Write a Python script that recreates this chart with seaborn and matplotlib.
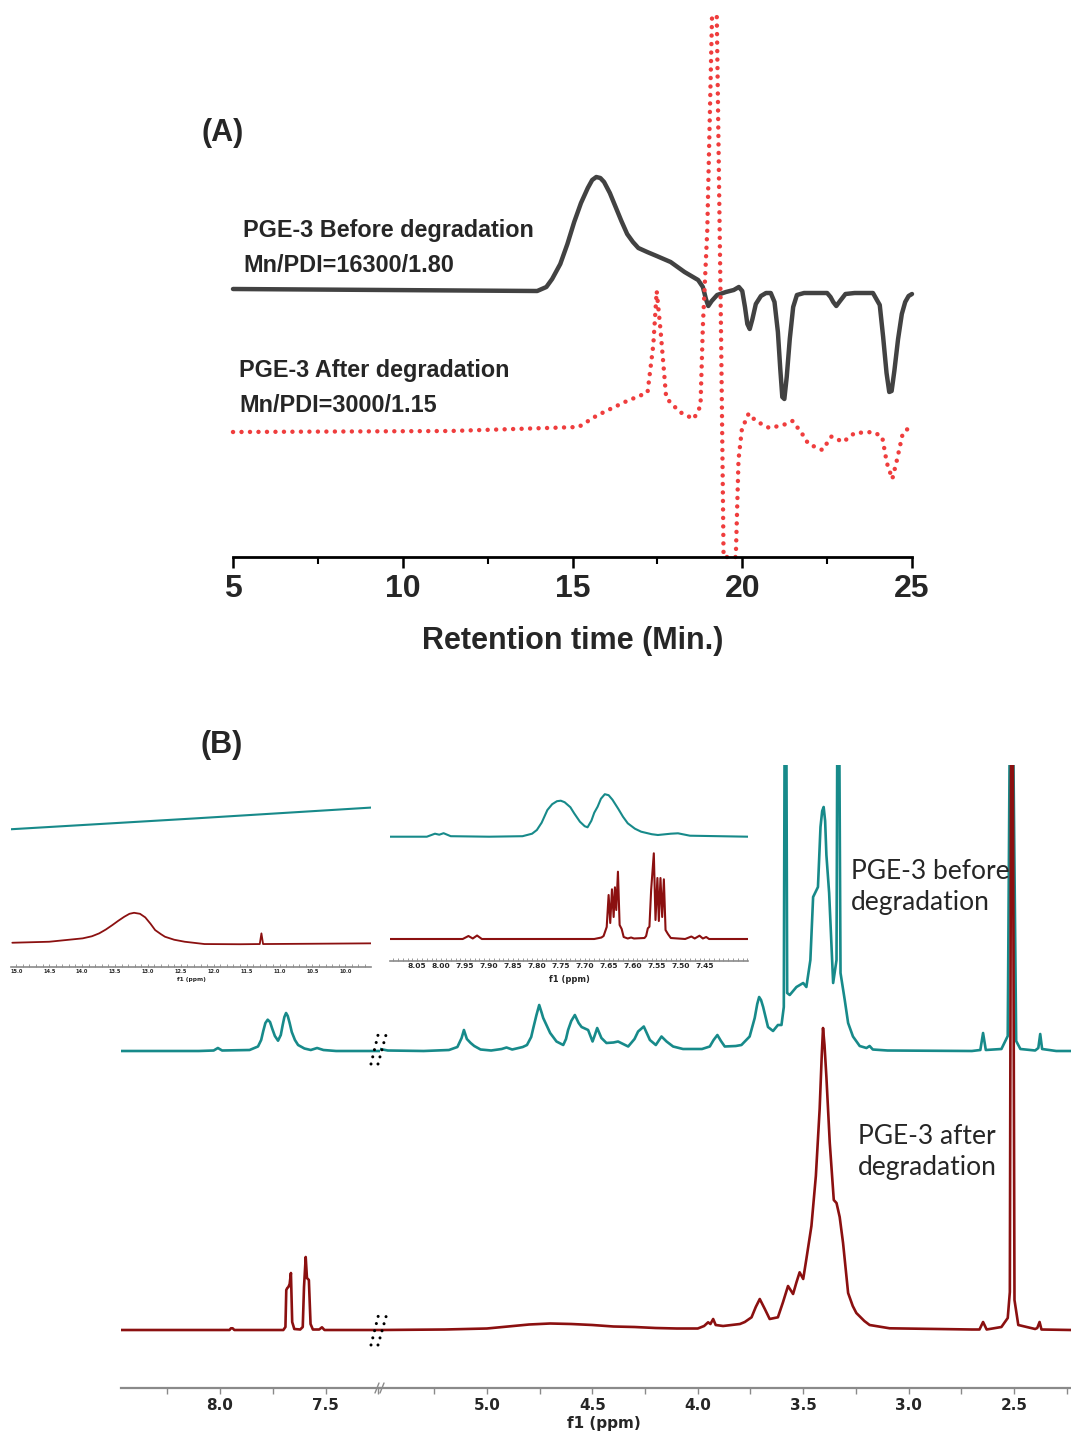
import matplotlib
matplotlib.use('Agg')
import matplotlib.pyplot as plt
from matplotlib.lines import Line2D
from matplotlib.ticker import MultipleLocator
import seaborn as sns

# ---- (A) GPC traces: retention time (min) vs detector signal (a.u.)
gpc_time_before = [5.0, 13.96, 14.23, 14.4, 14.64, 14.85, 15.05, 15.25, 15.45, 15.58, 15.70,
                   15.82, 15.93, 16.1, 16.27, 16.44, 16.61, 16.78, 16.94, 17.2, 17.48, 17.89,
                   18.30, 18.70, 18.84, 18.93, 19.00, 19.10, 19.26, 19.52, 19.75, 19.90, 20.00,
                   20.08, 20.15, 20.22, 20.30, 20.40, 20.55, 20.70, 20.84, 20.95, 21.05, 21.12,
                   21.18, 21.24, 21.31, 21.40, 21.50, 21.61, 21.82, 22.50, 22.60, 22.68, 22.77,
                   22.88, 23.04, 23.31, 23.85, 24.05, 24.15, 24.25, 24.33, 24.40, 24.48, 24.59,
                   24.70, 24.80, 24.90, 25.0]
gpc_signal_before = [26.8, 26.6, 27.0, 27.8, 29.3, 31.3, 33.5, 35.4, 36.9, 37.7, 38.0,
                     37.9, 37.5, 36.4, 35.0, 33.6, 32.3, 31.5, 30.9, 30.5, 30.1, 29.5,
                     28.5, 27.7, 27.0, 25.8, 25.1, 25.6, 26.2, 26.5, 26.7, 27.0, 26.6,
                     25.0, 23.3, 22.8, 23.8, 25.3, 26.1, 26.4, 26.4, 25.5, 22.5, 18.8,
                     16.0, 15.8, 18.0, 21.8, 25.0, 26.2, 26.4, 26.4, 26.0, 25.5, 25.1,
                     25.6, 26.3, 26.4, 26.4, 25.2, 22.0, 18.4, 16.5, 16.6, 18.6, 21.8,
                     24.3, 25.5, 26.1, 26.3]
gpc_time_after = [5.0, 11.39, 15.18, 15.72, 16.54, 17.21, 17.38, 17.48, 17.59, 17.76, 18.16,
                  18.57, 18.77, 18.84, 18.97, 19.11, 19.25, 19.38, 19.45, 19.81, 19.89, 19.99,
                  20.19, 20.40, 20.80, 21.21, 21.48, 21.75, 21.95, 22.36, 22.63, 22.97, 23.31,
                  23.85, 24.12, 24.26, 24.42, 24.56, 24.73, 24.87]
gpc_signal_after = [12.5, 12.6, 13.0, 14.15, 15.5, 16.45, 21.2, 26.6, 22.8, 15.9, 14.5,
                    13.8, 15.1, 23.1, 32.7, 54.1, 54.1, 21.2, 0.0, 0.0, 9.75, 12.8,
                    14.35, 13.6, 12.9, 13.2, 13.6, 12.4, 11.3, 10.7, 12.05, 11.5, 12.4,
                    12.5, 12.05, 9.4, 7.8, 9.75, 12.4, 12.8]
gpc_ticks = [5, 10, 15, 20, 25]

# ---- (B) 1H NMR, heights above each trace's baseline
teal_left_ppm = [8.469, 8.10, 8.03, 8.01, 7.99, 7.86, 7.82, 7.805, 7.795, 7.785, 7.774, 7.763,
                 7.752, 7.74, 7.725, 7.712, 7.703, 7.695, 7.687, 7.679, 7.67, 7.66, 7.645, 7.63,
                 7.60, 7.57, 7.54, 7.51, 7.45, 7.242]
teal_left_h = [0, 0, 0.05, 0.3, 0.05, 0.1, 0.45, 1.1, 2.0, 2.8, 3.13, 2.9,
               2.2, 1.5, 1.03, 1.6, 2.6, 3.4, 3.8, 3.5, 2.8, 1.9, 1.1, 0.6,
               0.25, 0.1, 0.3, 0.1, 0, 0]
teal_right_ppm = [5.507, 5.47, 5.30, 5.18, 5.14, 5.12, 5.109, 5.095, 5.077, 5.06, 5.03, 4.98,
                  4.93, 4.907, 4.88, 4.83, 4.81, 4.79, 4.78, 4.765, 4.752, 4.74, 4.733, 4.70,
                  4.67, 4.638, 4.625, 4.615, 4.60, 4.583, 4.565, 4.551, 4.52, 4.499, 4.488,
                  4.477, 4.457, 4.433, 4.40, 4.378, 4.33, 4.30, 4.283, 4.256, 4.227, 4.199,
                  4.172, 4.148, 4.117, 4.07, 3.98, 3.943, 3.925, 3.907, 3.89, 3.872, 3.82,
                  3.793, 3.754, 3.73, 3.718, 3.709, 3.70, 3.69, 3.667, 3.643, 3.62, 3.603,
                  3.592, 3.587, 3.581, 3.576, 3.564, 3.532, 3.50, 3.485, 3.466, 3.453, 3.43,
                  3.418, 3.41, 3.403, 3.396, 3.39, 3.377, 3.358, 3.342, 3.337, 3.331, 3.323,
                  3.303, 3.287, 3.264, 3.232, 3.20, 3.185, 3.17, 3.10, 2.70, 2.66, 2.647,
                  2.634, 2.56, 2.53, 2.518, 2.508, 2.49, 2.47, 2.40, 2.385, 2.376, 2.367,
                  2.30, 2.23]
teal_right_h = [0.2, 0.05, 0.0, 0.1, 0.4, 1.3, 2.1, 1.2, 0.8, 0.5, 0.15, 0.05,
                0.2, 0.35, 0.15, 0.4, 0.6, 1.4, 2.3, 3.6, 4.6, 3.8, 3.3, 1.8,
                0.95, 0.6, 1.2, 2.1, 3.0, 3.6, 2.8, 2.4, 2.1, 0.95, 1.6,
                2.3, 1.3, 0.8, 0.85, 0.95, 0.45, 1.2, 1.95, 2.45, 1.1, 0.6,
                1.45, 0.95, 0.45, 0.2, 0.2, 0.45, 1.1, 1.6, 1.0, 0.45, 0.5,
                0.6, 1.45, 3.3, 4.7, 5.4, 5.1, 4.4, 2.4, 2.0, 2.6, 2.6,
                4.4, 40, 40, 5.8, 5.6, 6.4, 6.8, 6.4, 9.1, 15.4, 16.4,
                22.4, 24.0, 24.4, 23.0, 19.6, 15.8, 6.8, 9.1, 40, 40, 7.8,
                5.1, 2.8, 1.45, 0.5, 0.3, 0.5, 0.15, 0.05, 0.0, 0.1, 1.8,
                0.1, 0.2, 1.5, 40, 40, 1.0, 0.2, 0.05, 0.3, 1.7, 0.2,
                0.0, 0.0]
red_left_ppm = [8.469, 8.0, 7.955, 7.948, 7.94, 7.932, 7.70, 7.69, 7.686, 7.681, 7.676, 7.670,
                7.664, 7.658, 7.648, 7.62, 7.608, 7.602, 7.594, 7.588, 7.579, 7.571, 7.56,
                7.53, 7.517, 7.505, 7.242]
red_left_h = [0, 0, 0.0, 0.17, 0.17, 0.0, 0.0, 0.3, 4.0, 4.2, 4.3, 4.6,
              5.7, 0.8, 0.1, 0.05, 0.3, 4.3, 7.3, 5.2, 5.0, 0.6, 0.05,
              0.05, 0.27, 0.0, 0]
red_right_ppm = [5.507, 5.2, 5.0, 4.9, 4.8, 4.7, 4.6, 4.5, 4.4, 4.3, 4.2, 4.1, 4.0, 3.97,
                 3.951, 3.94, 3.927, 3.915, 3.88, 3.84, 3.80, 3.777, 3.745, 3.725, 3.706,
                 3.682, 3.659, 3.62, 3.596, 3.572, 3.548, 3.532, 3.517, 3.50, 3.485, 3.461,
                 3.44, 3.422, 3.412, 3.406, 3.399, 3.39, 3.374, 3.355, 3.342, 3.327, 3.311,
                 3.287, 3.265, 3.248, 3.21, 3.185, 3.09, 2.70, 2.664, 2.647, 2.63, 2.56, 2.53,
                 2.52, 2.514, 2.506, 2.498, 2.48, 2.40, 2.39, 2.379, 2.37, 2.23]
red_right_h = [0, 0.05, 0.15, 0.35, 0.55, 0.65, 0.6, 0.5, 0.35, 0.3, 0.2, 0.15, 0.15, 0.4,
               0.77, 0.6, 1.1, 0.5, 0.4, 0.5, 0.6, 0.8, 1.27, 2.3, 3.1,
               2.1, 1.1, 1.27, 2.77, 4.4, 3.6, 4.77, 5.77, 5.1, 7.1, 10.4,
               15.4, 22.1, 27.5, 30.2, 28.5, 25.3, 18.7, 13.0, 12.7, 11.3, 8.7,
               3.7, 2.4, 1.7, 0.9, 0.5, 0.17, 0.05, 0.05, 0.8, 0.05, 0.3, 1.2,
               3.8, 60, 60, 3.0, 0.5, 0.1, 0.2, 0.8, 0.05, 0.0]
TEAL_BASE, RED_BASE = 33.7, 5.8
left_ticks = [8.25, 8.0, 7.75, 7.5, 7.25]
left_labels = ['', '8.0', '', '7.5', '']
right_ticks = [5.25, 5.0, 4.75, 4.5, 4.25, 4.0, 3.75, 3.5, 3.25, 3.0, 2.75, 2.5, 2.25]
right_labels = ['', '5.0', '', '4.5', '', '4.0', '', '3.5', '', '3.0', '', '2.5', '']

# inset 1 (15.0-9.6 ppm), absolute values
ins1_teal_ppm = [15.08, 12.3, 9.61]
ins1_teal_val = [13.77, 14.85, 15.94]
ins1_red_ppm = [15.06, 14.5, 13.99, 13.85, 13.74, 13.64, 13.54, 13.45, 13.36, 13.28, 13.21,
                13.12, 13.04, 12.96, 12.89, 12.80, 12.74, 12.60, 12.44, 12.14, 11.6, 11.30,
                11.275, 11.25, 10.5, 9.61]
ins1_red_val = [2.40, 2.50, 2.84, 3.05, 3.34, 3.72, 4.17, 4.6, 5.0, 5.3, 5.4,
                5.3, 4.94, 4.3, 3.67, 3.25, 3.0, 2.7, 2.5, 2.27, 2.25, 2.27,
                3.34, 2.27, 2.30, 2.34]
ins1_ticks = [15.0, 14.5, 14.0, 13.5, 13.0, 12.5, 12.0, 11.5, 11.0, 10.5, 10.0]

# inset 2 (8.1-7.36 ppm), heights above baseline
ins2_teal_ppm = [8.107, 8.03, 8.013, 8.004, 7.995, 7.98, 7.90, 7.83, 7.81, 7.80, 7.79, 7.778,
                 7.768, 7.758, 7.75, 7.742, 7.73, 7.722, 7.71, 7.70, 7.694, 7.686, 7.68, 7.673,
                 7.666, 7.658, 7.65, 7.642, 7.63, 7.62, 7.61, 7.595, 7.582, 7.56, 7.547, 7.52,
                 7.505, 7.48, 7.358]
ins2_teal_h = [0, 0, 0.3, 0.2, 0.35, 0.05, 0, 0.05, 0.3, 0.67, 1.4, 2.67,
               3.25, 3.55, 3.6, 3.45, 2.95, 2.34, 1.5, 1.05, 0.94, 1.6, 2.4, 3.0,
               3.8, 4.25, 4.15, 3.7, 2.8, 2.0, 1.34, 0.8, 0.5, 0.25, 0.17, 0.3,
               0.34, 0.1, 0]
ins2_red_ppm = [8.107, 7.955, 7.943, 7.934, 7.925, 7.915, 7.68, 7.665, 7.6605, 7.654, 7.65,
                7.6466, 7.643, 7.6395, 7.6368, 7.634, 7.6305, 7.627, 7.6227, 7.6185, 7.61,
                7.603, 7.597, 7.575, 7.5716, 7.568, 7.5647, 7.5611, 7.5555, 7.552, 7.548,
                7.545, 7.5416, 7.538, 7.5345, 7.531, 7.526, 7.52, 7.49, 7.477, 7.47, 7.46,
                7.453, 7.446, 7.44, 7.358]
ins2_red_h = [0, 0, 0.3, 0.05, 0.35, 0, 0, 0.15, 0.3, 1.2, 4.4,
              1.6, 4.97, 2.2, 5.17, 2.9, 6.73, 1.4, 1.0, 0.2, 0.05,
              0.15, 0.05, 0.1, 0.3, 1.07, 1.23, 4.9, 8.57, 1.9, 6.1,
              1.8, 6.1, 2.2, 5.97, 0.9, 0.5, 0.1, 0, 0.25, 0.05, 0.33,
              0.05, 0.2, 0, 0]
INS2_TEAL_BASE, INS2_RED_BASE = 12.4, 2.17
ins2_ticks = [8.05, 8.00, 7.95, 7.90, 7.85, 7.80, 7.75, 7.70, 7.65, 7.60, 7.55, 7.50, 7.45]

TEAL = '#178a8a'
DARKRED = '#8b1010'
GRAY = '#8a8a8a'

sns.set_theme(style='white')
plt.rcParams['font.family'] = ['Liberation Sans', 'DejaVu Sans']

W, H = 1071, 1435
fig = plt.figure(figsize=(W / 100, H / 100), dpi=100)


def px_axes(x0, y0, x1, y1):
    return fig.add_axes([x0 / W, 1 - y1 / H, (x1 - x0) / W, (y1 - y0) / H])


def px_text(x, y, s, **kw):
    fig.text(x / W, 1 - y / H, s, **kw)


def px_line(xs, ys, **kw):
    fig.add_artist(Line2D([x / W for x in xs], [1 - y / H for y in ys],
                          transform=fig.transFigure, **kw))


def trace(ax, x, y, base, color, lw, **kw):
    sns.lineplot(x=x, y=[v + base for v in y], ax=ax, color=color, lw=lw,
                 sort=False, estimator=None, **kw)


def bottom_only(ax, color, lw):
    for s in ['left', 'right', 'top']:
        ax.spines[s].set_visible(False)
    ax.spines['bottom'].set_color(color)
    ax.spines['bottom'].set_linewidth(lw)
    ax.set_yticks([])
    ax.set_ylabel('')
    ax.patch.set_alpha(0)


# ---------------- (A)
ax_a = px_axes(233, 7, 912, 557)
trace(ax_a, gpc_time_before, gpc_signal_before, 0, '#424242', 3.2, clip_on=False)
trace(ax_a, gpc_time_after, gpc_signal_after, 0, '#ef3d3d', 3.2, clip_on=False,
      linestyle=(0, (0.01, 1.9)), dash_capstyle='round')
ax_a.set_xlim(5, 25)
ax_a.set_ylim(0, 55)
bottom_only(ax_a, 'black', 2)
ax_a.set_xticks(gpc_ticks)
ax_a.xaxis.set_minor_locator(MultipleLocator(2.5))
ax_a.tick_params(axis='x', which='major', direction='out', length=8, width=1.8,
                 color='black', labelsize=23, pad=4, bottom=True)
ax_a.tick_params(axis='x', which='minor', direction='out', length=5, width=1.5,
                 color='black', bottom=True)
for lab in ax_a.get_xticklabels():
    lab.set_fontweight('bold')
ax_a.set_xlabel('Retention time (Min.)', fontsize=22, fontweight='bold')
ax_a.xaxis.set_label_coords(0.5, -0.125)

px_text(223, 133, '(A)', fontsize=22, fontweight='bold', ha='center', va='center')
px_text(243, 230, 'PGE-3 Before degradation', fontsize=16.8, fontweight='bold', va='center')
px_text(243, 265, 'Mn/PDI=16300/1.80', fontsize=16.8, fontweight='bold', va='center')
px_text(239, 370, 'PGE-3 After degradation', fontsize=16.8, fontweight='bold', va='center')
px_text(239, 405, 'Mn/PDI=3000/1.15', fontsize=16.8, fontweight='bold', va='center')

# ---------------- (B) main broken-axis spectrum
ax_l = px_axes(121, 765, 380, 1388)
ax_r = px_axes(380, 765, 1071, 1388)
for ax, tp, th, rp, rh in [(ax_l, teal_left_ppm, teal_left_h, red_left_ppm, red_left_h),
                           (ax_r, teal_right_ppm, teal_right_h, red_right_ppm, red_right_h)]:
    trace(ax, tp, th, TEAL_BASE, TEAL, 1.9)
    trace(ax, rp, rh, RED_BASE, DARKRED, 1.9)
    ax.set_ylim(0, 62.3)
    bottom_only(ax, GRAY, 1.6)
    ax.tick_params(axis='x', direction='out', length=4, width=1, color=GRAY,
                   labelsize=11, pad=3, bottom=True)
ax_l.set_xlim(8.469, 7.242)
ax_r.set_xlim(5.507, 2.23)
ax_l.set_xticks(left_ticks, left_labels)
ax_r.set_xticks(right_ticks, right_labels)
for ax in (ax_l, ax_r):
    for lab in ax.get_xticklabels():
        lab.set_fontweight('bold')
        lab.set_family('DejaVu Sans')
ax_l.set_xlabel('')
ax_r.set_xlabel('f1 (ppm)', fontsize=11, fontweight='bold', family='DejaVu Sans')
ax_r.xaxis.set_label_coords(0.324, -0.045)

# axis break slashes and dotted break marks on the traces
px_line([375, 379], [1393, 1383], color=GRAY, lw=1)
px_line([380, 384], [1393, 1383], color=GRAY, lw=1)
for y_lo, y_hi in [(1064, 1033), (1345, 1315)]:
    px_line([371, 378.5], [y_lo, y_hi], color='black', lw=2.2,
            linestyle=(0, (0.01, 2.4)), dash_capstyle='round')
    px_line([378, 386.5], [y_lo, y_hi], color='black', lw=2.2,
            linestyle=(0, (0.01, 2.4)), dash_capstyle='round')

# ---------------- inset 1
ax_i1 = px_axes(11, 800, 371, 966.7)
trace(ax_i1, ins1_teal_ppm, ins1_teal_val, 0, TEAL, 1.5)
trace(ax_i1, ins1_red_ppm, ins1_red_val, 0, DARKRED, 1.3)
ax_i1.set_xlim(15.08, 9.61)
ax_i1.set_ylim(0, 16.7)
bottom_only(ax_i1, GRAY, 1.2)
ax_i1.set_xticks(ins1_ticks, [f'{t:.1f}' for t in ins1_ticks])
ax_i1.xaxis.set_minor_locator(MultipleLocator(0.1))
ax_i1.tick_params(axis='x', which='both', direction='in', length=2, width=0.6,
                  color=GRAY, labelsize=3.6, pad=2, bottom=True)
for lab in ax_i1.get_xticklabels():
    lab.set_fontweight('bold')
    lab.set_family('DejaVu Sans')
ax_i1.set_xlabel('f1 (ppm)', fontsize=4.2, fontweight='bold', family='DejaVu Sans')
ax_i1.xaxis.set_label_coords(0.5, -0.06)

# ---------------- inset 2
ax_i2 = px_axes(390, 785.7, 748.3, 960.7)
trace(ax_i2, ins2_teal_ppm, ins2_teal_h, INS2_TEAL_BASE, TEAL, 1.5)
trace(ax_i2, ins2_red_ppm, ins2_red_h, INS2_RED_BASE, DARKRED, 1.5)
ax_i2.set_xlim(8.107, 7.358)
ax_i2.set_ylim(0, 17.5)
bottom_only(ax_i2, GRAY, 1.2)
ax_i2.set_xticks(ins2_ticks, [f'{t:.2f}' for t in ins2_ticks])
ax_i2.xaxis.set_minor_locator(MultipleLocator(0.01))
ax_i2.tick_params(axis='x', which='both', direction='in', length=2, width=0.6,
                  color=GRAY, labelsize=5.4, pad=2, bottom=True)
for lab in ax_i2.get_xticklabels():
    lab.set_fontweight('bold')
    lab.set_family('DejaVu Sans')
ax_i2.set_xlabel('f1 (ppm)', fontsize=6, fontweight='bold', family='DejaVu Sans')
ax_i2.xaxis.set_label_coords(0.5, -0.08)

# ---------------- panel B labels
px_text(222, 745, '(B)', fontsize=22, fontweight='bold', ha='center', va='center')
px_text(851, 887, 'PGE-3 before\ndegradation', fontsize=19, family=['Lato', 'DejaVu Sans'],
        va='center', linespacing=1.3)
px_text(858, 1152, 'PGE-3 after\ndegradation', fontsize=19, family=['Lato', 'DejaVu Sans'],
        va='center', linespacing=1.3)

fig.savefig('out.png', dpi=100)
